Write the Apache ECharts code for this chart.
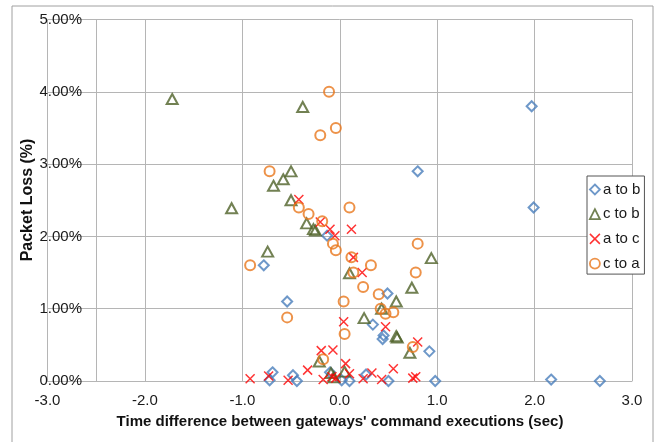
<!DOCTYPE html>
<html>
<head>
<meta charset="utf-8">
<script src="https://cdn.jsdelivr.net/npm/echarts@6/dist/echarts.min.js"></script>
<style>html,body{margin:0;padding:0;background:#fff}#c{width:657px;height:442px}</style>
</head>
<body>
<div id="c"></div>
<script>
// Series data: [time difference (sec), packet loss (%)]
var seriesNames = ['a to b', 'c to b', 'a to c', 'c to a'];
var aToB = [
  [1.97,3.80],[1.99,2.40],[0.80,2.90],[-0.13,2.01],[-0.78,1.60],[-0.54,1.10],[0.49,1.21],
  [0.34,0.78],[0.45,0.63],[0.44,0.58],[0.92,0.41],[-0.69,0.12],[-0.72,0.01],[-0.48,0.08],
  [-0.44,0.00],[0.02,0.01],[0.10,0.00],[0.27,0.09],[0.50,0.00],[0.98,0.00],[2.17,0.02],
  [2.67,0.00],[-0.10,0.12]
];
var cToB = [
  [-1.72,3.90],[-0.38,3.79],[-0.50,2.90],[-0.58,2.79],[-0.68,2.70],[-0.50,2.50],[-1.11,2.39],
  [-0.34,2.18],[-0.27,2.10],[-0.25,2.08],[-0.74,1.79],[0.10,1.49],[0.94,1.70],[0.74,1.29],
  [0.58,1.10],[0.43,1.00],[0.25,0.87],[0.58,0.62],[0.59,0.60],[0.72,0.39],[-0.21,0.27],
  [-0.09,0.11],[0.05,0.13],[-0.06,0.05]
];
var aToC = [
  [-0.42,2.51],[-0.20,2.20],[-0.10,2.10],[-0.05,2.01],[0.12,2.10],[0.14,1.71],[0.23,1.50],
  [0.04,0.82],[0.47,0.75],[0.80,0.54],[-0.19,0.42],[-0.07,0.43],[0.06,0.24],[0.55,0.17],
  [-0.33,0.15],[0.33,0.11],[0.10,0.10],[-0.92,0.03],[-0.73,0.07],[-0.53,0.01],[-0.17,0.02],
  [-0.08,0.06],[-0.04,0.04],[0.24,0.03],[0.43,0.02],[0.75,0.04],[0.78,0.06]
];
var cToA = [
  [-0.11,4.00],[-0.04,3.50],[-0.20,3.40],[-0.72,2.90],[0.10,2.40],[-0.42,2.40],[-0.32,2.31],
  [-0.18,2.21],[-0.07,1.90],[-0.04,1.81],[0.12,1.71],[0.80,1.90],[-0.92,1.60],[0.14,1.50],
  [0.32,1.60],[0.78,1.50],[0.24,1.30],[0.40,1.20],[0.04,1.10],[0.42,1.00],[0.47,0.93],
  [0.55,0.95],[-0.54,0.88],[0.05,0.65],[0.75,0.47],[-0.17,0.30]
];
var xTitle = "Time difference between gateways' command executions (sec)";
var yTitle = 'Packet Loss (%)';

var FONT = '"Liberation Sans", Arial, sans-serif';
var GRID = '#b5b5b5';
var XPATH = 'path://M0,0L10,10M10,0L0,10';
var styles = [
  {symbol:'diamond', size:10, color:'#4a7ebb', bw:2},
  {symbol:'triangle', size:[11,10], color:'#4f6228', bw:2},
  {symbol:XPATH, size:9, color:'#ff0000', bw:1.5},
  {symbol:'circle', size:10, color:'#e8771c', bw:2}
];
var datas = [aToB, cToB, aToC, cToA];

var series = datas.map(function(d, i){
  var s = styles[i];
  return {
    name: seriesNames[i], type:'scatter', data:d,
    symbol:s.symbol, symbolSize:s.size,
    itemStyle:{color: i===2 ? s.color : 'rgba(255,255,255,0)', borderColor:s.color, borderWidth:s.bw},
    emphasis:{disabled:true},
    z: 3 + i
  };
});
series[0].markLine = {
  silent:true, symbol:'none', animation:false,
  label:{show:false},
  lineStyle:{color:GRID, type:'solid', width:1},
  data:[[{coord:[-2.5,0]},{coord:[-2.5,5]}]]
};

var chart = echarts.init(document.getElementById('c'), null, {renderer:'canvas'});
chart.setOption({
  animation:false,
  backgroundColor:'#fff',
  grid:{left:47.5, right:25, top:19.5, bottom:61, containLabel:false},
  xAxis:{
    type:'value', min:-3, max:3, interval:1,
    axisLine:{show:true, lineStyle:{color:GRID}},
    axisTick:{show:false},
    splitLine:{show:true, lineStyle:{color:GRID, width:1}},
    axisLabel:{fontSize:15, color:'#1a1a1a', fontFamily:FONT, margin:12,
      formatter:function(v){return v.toFixed(1);}}
  },
  yAxis:{
    type:'value', min:0, max:5, interval:1, offset:-36.5,
    axisLine:{show:false}, axisTick:{show:false},
    splitLine:{show:true, lineStyle:{color:GRID, width:1}},
    axisLabel:{fontSize:15, color:'#1a1a1a', fontFamily:FONT, margin:2, padding:[4,0,0,0],
      formatter:function(v){return v.toFixed(2)+'%';}}
  },
  legend:{
    orient:'vertical', left:587, top:176,
    padding:[5,4,2,2], itemGap:7.7, itemWidth:10, itemHeight:10,
    borderColor:'#555', borderWidth:1, backgroundColor:'#fff',
    textStyle:{fontSize:15, color:'#1a1a1a', fontFamily:FONT, lineHeight:17, padding:[0,0,0,-2]},
    selectedMode:false,
    data: seriesNames.map(function(n, i){
      var s = styles[i];
      return {name:n, icon:s.symbol,
        itemStyle:{color: i===2 ? s.color : 'rgba(255,255,255,0)', borderColor:s.color, borderWidth: i===2 ? 1.5 : 1.8}};
    })
  },
  graphic:[
    {type:'rect', silent:true, z:-1, shape:{x:12, y:6, width:641, height:440},
      style:{fill:'none', stroke:'#a0a0a0', lineWidth:1}},
    {type:'text', silent:true, x:340, y:422,
      style:{text:xTitle, font:'bold 15px '+FONT, fill:'#111', textAlign:'center', textVerticalAlign:'middle'}},
    {type:'text', silent:true, x:28, y:200, rotation:Math.PI/2,
      style:{text:yTitle, font:'bold 16px '+FONT, fill:'#111', textAlign:'center', textVerticalAlign:'middle'}}
  ],
  series: series
});
</script>
</body>
</html>
